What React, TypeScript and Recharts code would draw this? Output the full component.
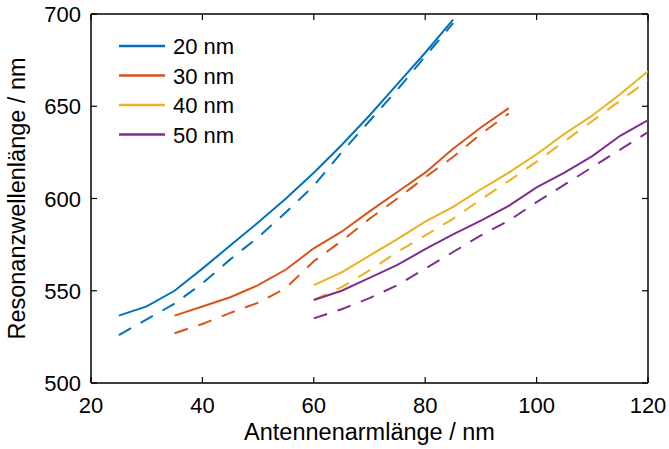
import React from "react";
import { LineChart, Line, XAxis, YAxis, ReferenceLine, Legend } from "recharts";

// chart frame (px)
const W = 669;
const H = 449;
const PLOT_LEFT = 91;
const PLOT_RIGHT = 648;
const PLOT_TOP = 14;
const PLOT_BOTTOM = 383;
const TICK = 6;
const FONT = "'Liberation Sans', Arial, Helvetica, sans-serif";

// arm length (nm) per width
const len20 = [25, 30, 35, 40, 45, 50, 55, 60, 65, 70, 75, 80, 85];
const len30 = [35, 40, 45, 50, 55, 60, 65, 70, 75, 80, 85, 90, 95];
const len40 = [60, 65, 70, 75, 80, 85, 90, 95, 100, 105, 110, 115, 120];
const len50 = [60, 65, 70, 75, 80, 85, 90, 95, 100, 105, 110, 115, 120];

// resonance wavelength (nm), solid and dashed curves
const solid20 = [536.5, 541.5, 550, 562, 574.5, 587, 600, 614, 629, 645, 662, 679, 697];
const dashed20 = [526, 534.5, 543, 554, 567, 579, 592.5, 607, 625, 642, 659, 677, 695];
const solid30 = [536.5, 541.5, 546.5, 553, 561.5, 573, 582, 593, 603.5, 614, 627, 638.5, 649];
const dashed30 = [527, 532, 538, 543.5, 551.5, 566, 577, 589, 600, 611.5, 622.5, 635, 646];
const solid40 = [553, 560, 569, 578, 587.5, 595.5, 605, 614, 624, 635, 645, 656.5, 669];
const dashed40 = [545, 552, 561, 571, 580, 589, 599.5, 609.5, 620, 631, 642, 653, 664];
const solid50 = [545, 550, 557, 564, 572.5, 580.5, 588, 596, 606, 614, 623, 634, 642.5];
const dashed50 = [535, 540, 546, 553, 562, 571, 580, 588, 598, 607.5, 617, 626.5, 636];

const widths = ["20 nm", "30 nm", "40 nm", "50 nm"];
const colors = ["#0072BD", "#D95319", "#EDB120", "#7E2F8E"];

const xTicks = [20, 40, 60, 80, 100, 120];
const yTicks = [500, 550, 600, 650, 700];

const zip = (xs: number[], ys: number[]) => xs.map((x, i) => ({ x, y: ys[i] }));

const series = [
  { name: widths[0], color: colors[0], solid: zip(len20, solid20), dashed: zip(len20, dashed20) },
  { name: widths[1], color: colors[1], solid: zip(len30, solid30), dashed: zip(len30, dashed30) },
  { name: widths[2], color: colors[2], solid: zip(len40, solid40), dashed: zip(len40, dashed40) },
  { name: widths[3], color: colors[3], solid: zip(len50, solid50), dashed: zip(len50, dashed50) },
];

function XTick(props: any) {
  const { x, payload } = props;
  return (
    <g>
      <line x1={x} x2={x} y1={PLOT_BOTTOM} y2={PLOT_BOTTOM - TICK} stroke="#000" strokeWidth={1.2} />
      <line x1={x} x2={x} y1={PLOT_TOP} y2={PLOT_TOP + TICK} stroke="#000" strokeWidth={1.2} />
      <text x={x} y={413} textAnchor="middle" fontSize={22} fontFamily={FONT} fill="#000">
        {payload.value}
      </text>
    </g>
  );
}

function YTick(props: any) {
  const { y, payload } = props;
  return (
    <g>
      <line x1={PLOT_LEFT} x2={PLOT_LEFT + TICK} y1={y} y2={y} stroke="#000" strokeWidth={1.2} />
      <line x1={PLOT_RIGHT} x2={PLOT_RIGHT - TICK} y1={y} y2={y} stroke="#000" strokeWidth={1.2} />
      <text x={81} y={y + 8} textAnchor="end" fontSize={22} fontFamily={FONT} fill="#000">
        {payload.value}
      </text>
    </g>
  );
}

function LegendBox() {
  return (
    <svg width={300} height={160} style={{ display: "block" }}>
      {series.map((s, i) => {
        const cy = 46 + i * 29.5;
        return (
          <g key={s.name}>
            <line x1={119} x2={165} y1={cy} y2={cy} stroke={s.color} strokeWidth={2.5} />
            <text x={173} y={cy + 8} fontSize={22} fontFamily={FONT} fill="#000">
              {s.name}
            </text>
          </g>
        );
      })}
    </svg>
  );
}

export default function App() {
  return (
    <div style={{ position: "absolute", left: 0, top: 0, background: "#fff" }}>
      <LineChart
        width={W}
        height={H}
        margin={{ top: PLOT_TOP, right: W - PLOT_RIGHT, bottom: 0, left: 0 }}
      >
        <XAxis
          dataKey="x"
          type="number"
          domain={[20, 120]}
          ticks={xTicks}
          height={H - PLOT_BOTTOM}
          tickSize={0}
          tickMargin={0}
          tickLine={false}
          tick={XTick}
          axisLine={{ stroke: "#000", strokeWidth: 1.5 }}
          label={{
            content: () => (
              <text x={(PLOT_LEFT + PLOT_RIGHT) / 2} y={440} textAnchor="middle" fontSize={23.5} fontFamily={FONT} fill="#000">
                Antennenarmlänge / nm
              </text>
            ),
          }}
        />
        <YAxis
          type="number"
          domain={[500, 700]}
          ticks={yTicks}
          width={PLOT_LEFT}
          tickSize={0}
          tickMargin={0}
          tickLine={false}
          tick={YTick}
          axisLine={{ stroke: "#000", strokeWidth: 1.5 }}
          label={{
            content: () => (
              <text
                transform={`translate(25, ${(PLOT_TOP + PLOT_BOTTOM) / 2}) rotate(-90)`}
                textAnchor="middle"
                fontSize={23.5}
                fontFamily={FONT}
                fill="#000"
              >
                Resonanzwellenlänge / nm
              </text>
            ),
          }}
        />
        <ReferenceLine y={700} stroke="#000" strokeWidth={1.5} />
        <ReferenceLine x={120} stroke="#000" strokeWidth={1.5} />
        {series.map((s) => (
          <Line
            key={s.name + "-d"}
            data={s.dashed}
            dataKey="y"
            type="linear"
            stroke={s.color}
            strokeWidth={2}
            strokeDasharray="14 11"
            dot={false}
            legendType="none"
            isAnimationActive={false}
          />
        ))}
        {series.map((s) => (
          <Line
            key={s.name}
            name={s.name}
            data={s.solid}
            dataKey="y"
            type="linear"
            stroke={s.color}
            strokeWidth={2}
            dot={false}
            isAnimationActive={false}
          />
        ))}
        <Legend
          layout="vertical"
          align="center"
          verticalAlign="middle"
          wrapperStyle={{ left: 0, top: 0, width: 300, height: 160 }}
          content={LegendBox}
        />
      </LineChart>
    </div>
  );
}
